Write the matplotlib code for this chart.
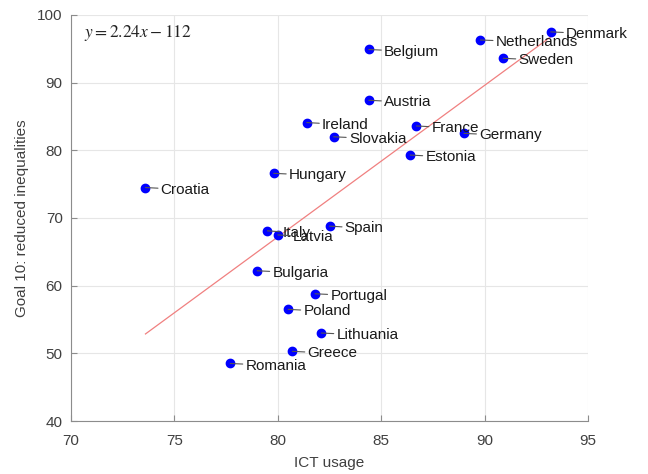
import numpy as np
import matplotlib
matplotlib.use("Agg")
import matplotlib.pyplot as plt

plt.rcParams["font.family"] = ["Liberation Sans", "DejaVu Sans"]
plt.rcParams["mathtext.fontset"] = "stix"

# values
countries = ["Denmark", "Netherlands", "Sweden", "Belgium", "Austria",
             "Ireland", "Slovakia", "France", "Germany", "Estonia",
             "Hungary", "Croatia", "Italy", "Latvia", "Spain", "Bulgaria",
             "Portugal", "Poland", "Lithuania", "Greece", "Romania"]
ict_usage = [93.2, 89.8, 90.9, 84.4, 84.4,
             81.4, 82.7, 86.7, 89.0, 86.4,
             79.8, 73.6, 79.5, 80.0, 82.5, 79.0,
             81.8, 80.5, 82.1, 80.7, 77.7]
goal10 = [97.5, 96.3, 93.6, 94.9, 87.4,
          84.1, 82.0, 83.6, 82.5, 79.3,
          76.6, 74.5, 68.1, 67.5, 68.8, 62.2,
          58.8, 56.5, 53.0, 50.3, 48.5]
fit_slope = 2.24
fit_intercept = -112

fig = plt.figure(figsize=(6.48, 4.74), dpi=100)
ax = fig.add_axes([0.1096, 0.1118, 0.7978, 0.8566])

x = np.array(ict_usage)
xs = np.array([x.min(), x.max()])
ax.plot(xs, fit_slope * xs + fit_intercept, color="#f08080", lw=0.9, zorder=2)

ax.plot(ict_usage, goal10, "o", color="#0000ff", ms=6, zorder=3)
for name, xi, yi in zip(countries, ict_usage, goal10):
    ax.annotate(name, (xi, yi), xytext=(11, -1.5), textcoords="offset points",
                va="center", ha="left", fontsize=11, color="#1a1a1a",
                arrowprops=dict(arrowstyle="-", color="#555555", lw=0.8,
                                shrinkA=0, shrinkB=0))

ax.text(0.025, 0.98, r"$y = 2.24x - 112$", transform=ax.transAxes,
        ha="left", va="top", fontsize=12.5, color="#222222")

ax.set_xlim(70, 95)
ax.set_ylim(40, 100)
ax.set_xticks([70, 75, 80, 85, 90, 95])
ax.set_yticks([40, 50, 60, 70, 80, 90, 100])
ax.grid(True, color="#e6e6e6", lw=0.8)
ax.set_axisbelow(True)
for s in ["top", "right"]:
    ax.spines[s].set_visible(False)
for s in ["left", "bottom"]:
    ax.spines[s].set_color("#8c8c8c")
ax.tick_params(direction="in", colors="#8c8c8c", labelcolor="#404040",
               labelsize=11, length=4, pad=6)
ax.tick_params(axis="x", pad=9)
ax.set_xlabel("ICT usage", fontsize=11, color="#404040", labelpad=6)
ax.set_ylabel("Goal 10: reduced inequalities", fontsize=11, color="#404040",
              labelpad=6)

fig.savefig("out.png", dpi=100)
